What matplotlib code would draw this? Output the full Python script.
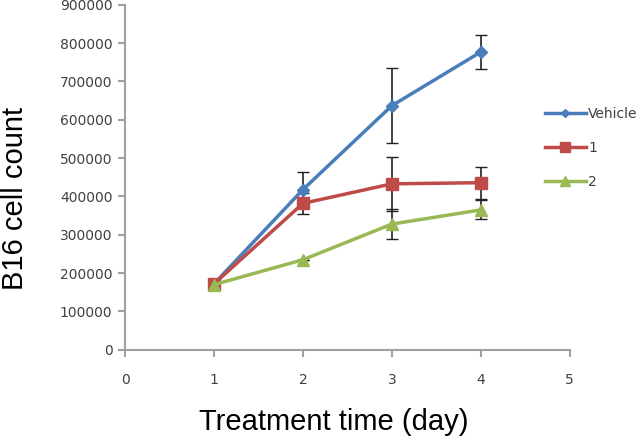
import matplotlib.pyplot as plt
from matplotlib.lines import Line2D

days = [1, 2, 3, 4]
vehicle = [172000, 418000, 637000, 777000]
vehicle_err = [0, 47000, 98000, 45000]
cmpd1 = [172000, 382000, 433000, 436000]
cmpd1_err = [0, 28000, 70000, 42000]
cmpd2 = [170000, 235000, 328000, 365000]
cmpd2_err = [0, 0, 40000, 25000]

x_ticks = [0, 1, 2, 3, 4, 5]
y_ticks = list(range(0, 900001, 100000))

series = [
    ('Vehicle', vehicle, vehicle_err, '#4a7ebb', 'D', 6),
    ('1', cmpd1, cmpd1_err, '#be4b48', 's', 9),
    ('2', cmpd2, cmpd2_err, '#98b954', '^', 9),
]

fig = plt.figure(figsize=(6.38, 4.40), dpi=100)
ax = fig.add_axes([0.196, 0.205, 0.697, 0.784])

handles = []
for name, vals, err, col, mk, ms in series:
    ax.errorbar(days, vals, yerr=err, color=col, marker=mk, markersize=ms,
                linewidth=2.5, ecolor='#222222', elinewidth=1.2, capsize=4, zorder=3)
    handles.append(Line2D([], [], color=col, marker=mk, markersize=ms * 0.75,
                          linewidth=2.5, label=name))

ax.set_xlim(0, 5)
ax.set_ylim(0, 900000)
ax.set_xticks(x_ticks)
ax.set_yticks(y_ticks)
ax.set_yticklabels([str(v) for v in y_ticks])
for s in ['top', 'right']:
    ax.spines[s].set_visible(False)
for s in ['left', 'bottom']:
    ax.spines[s].set_color('#a0a0a0')
    ax.spines[s].set_linewidth(1.5)
ax.tick_params(colors='#a0a0a0', length=5, width=1.5, labelcolor='#404040', labelsize=10)
ax.tick_params(axis='x', pad=12)
ax.tick_params(axis='y', pad=4)

ax.set_xlabel('Treatment time (day)', fontsize=21, family='Liberation Sans', va='center')
ax.set_ylabel('B16 cell count', fontsize=21, family='Liberation Sans', va='center')
ax.xaxis.set_label_coords(0.47, -0.209)
ax.yaxis.set_label_coords(-0.247, 0.44)

leg = ax.legend(handles=handles, loc='center left', bbox_to_anchor=(0.917, 0.585), frameon=False,
                fontsize=10, handlelength=2.9, labelspacing=1.45, handletextpad=0.2)
for t in leg.get_texts():
    t.set_color('#404040')

fig.savefig('out.png', dpi=100)
